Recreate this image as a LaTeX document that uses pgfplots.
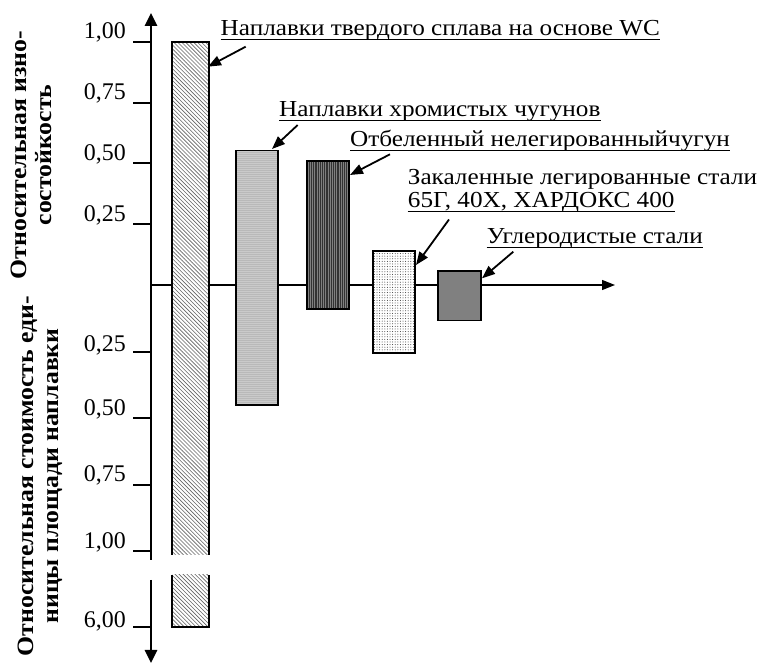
\documentclass[border=0pt]{standalone}
\usepackage{fontspec}
\setmainfont[FakeStretch=1.1]{Liberation Serif}
\newfontfamily\tickserif{Liberation Serif}
\usepackage{pgfplots}
\pgfplotsset{compat=1.18}
\usetikzlibrary{arrows.meta,patterns,patterns.meta}
\newcommand\lblfont{\fontsize{23}{26}\selectfont}
\newcommand\tickfont{\tickserif\fontsize{24}{27}\selectfont}
\newcommand\ylfont{\fontsize{23.5}{25}\selectfont\bfseries}
\tikzset{
  outl/.style={draw=black, line width=1.6bp, line join=miter},
  hatchA/.style={postaction={pattern={Lines[angle=-45,distance=2.8bp,line width=0.6bp]}, pattern color=black!60}},
  barA/.style={outl, fill=white, hatchA},
  barB/.style={outl, fill=black!20, postaction={pattern={Dots[distance=2bp,radius=0.45bp]}, pattern color=black!45}},
  barC/.style={outl, fill=black!80, postaction={pattern={Lines[angle=90,distance=2.2bp,line width=0.4bp]}, pattern color=black!50}},
  barD/.style={outl, fill=white, postaction={pattern={Dots[distance=2.6bp,radius=0.5bp]}, pattern color=black!80}},
  barE/.style={outl, fill=black!50},
  arr/.style={line width=1.8bp, -{Triangle[length=13bp,width=10bp]}},
}
\begin{document}
\begin{tikzpicture}
% pixel-frame annotations: axis lines (drawn first so bars cover them)
\begin{scope}[x=1bp, y=-1bp, yshift=664bp]
  \path (0,0) rectangle (763,664);
  \draw[line width=1.3bp, -{Triangle[length=13bp,width=10bp]}] (151,285) -- (615,285);
  \draw[line width=2.8bp, -{Triangle[length=13bp,width=12bp]}] (151,286) -- (151,13);
  \draw[line width=2.8bp] (151,284) -- (151,560);
  \draw[line width=2.8bp, -{Triangle[length=13bp,width=12bp]}] (151,580) -- (151,663);
\end{scope}

% upper half: relative wear resistance
\begin{axis}[name=up, at={(0bp,379bp)}, anchor=south west, scale only axis,
  width=763bp, height=285bp, xmin=0, xmax=763, ymin=0, ymax=1.17284,
  hide axis, clip=false, no markers]
  \addplot[barA] coordinates {(172,0) (172,1.00) (209,1.00) (209,0)};
  \addplot[barB] coordinates {(236,0) (236,0.553) (278,0.553) (278,0)};
  \addplot[barC] coordinates {(307,0) (307,0.51) (349,0.51) (349,0)};
  \addplot[barD] coordinates {(373,0) (373,0.14) (415,0.14) (415,0)};
  \addplot[barE] coordinates {(438,0) (438,0.058) (481,0.058) (481,0)};
  \draw[line width=2bp] (axis cs:133,0.25) -- (axis cs:151,0.25);
  \draw[line width=2bp] (axis cs:133,0.5) -- (axis cs:151,0.5);
  \draw[line width=2bp] (axis cs:133,0.75) -- (axis cs:151,0.75);
  \draw[line width=2bp] (axis cs:133,1) -- (axis cs:151,1);
  \node[anchor=base east, inner sep=0, yshift=3bp, font=\tickfont] at (axis cs:126,0.25) {0,25};
  \node[anchor=base east, inner sep=0, yshift=3bp, font=\tickfont] at (axis cs:126,0.5) {0,50};
  \node[anchor=base east, inner sep=0, yshift=3bp, font=\tickfont] at (axis cs:126,0.75) {0,75};
  \node[anchor=base east, inner sep=0, yshift=3bp, font=\tickfont] at (axis cs:126,1) {1,00};
\end{axis}

% lower half: relative cost per unit of surfaced area (axis broken between 1.00 and 6.00)
\begin{axis}[name=lo, at={(0bp,0bp)}, anchor=south west, scale only axis,
  width=763bp, height=379bp, xmin=0, xmax=763, ymin=0, ymax=1.42481, y dir=reverse,
  hide axis, clip=false, no markers]
  % bar 1: part above the break
  \addplot[draw=none, fill=white, hatchA] coordinates {(172,0) (172,1.015) (209,1.015) (209,0)};
  \addplot[black, line width=1.6bp] coordinates {(172,0) (172,1.015)};
  \addplot[black, line width=1.6bp] coordinates {(209,0) (209,1.015)};
  % bar 1: part below the break, ending at 6.00 (drawn at position 1.286 of the broken axis)
  \addplot[barA] coordinates {(172,1.09) (172,1.286) (209,1.286) (209,1.09)};
  \addplot[barB] coordinates {(236,0) (236,0.451) (278,0.451) (278,0)};
  \addplot[barC] coordinates {(307,0) (307,0.090) (349,0.090) (349,0)};
  \addplot[barD] coordinates {(373,0) (373,0.255) (415,0.255) (415,0)};
  \addplot[barE] coordinates {(438,0) (438,0.133) (481,0.133) (481,0)};
  \draw[line width=2bp] (axis cs:133,0.25) -- (axis cs:151,0.25);
  \draw[line width=2bp] (axis cs:133,0.5) -- (axis cs:151,0.5);
  \draw[line width=2bp] (axis cs:133,0.75) -- (axis cs:151,0.75);
  \draw[line width=2bp] (axis cs:133,1) -- (axis cs:151,1);
  \draw[line width=2bp] (axis cs:133,1.286) -- (axis cs:151,1.286);
  \node[anchor=base east, inner sep=0, yshift=0bp, font=\tickfont] at (axis cs:126,0.25) {0,25};
  \node[anchor=base east, inner sep=0, yshift=3bp, font=\tickfont] at (axis cs:126,0.5) {0,50};
  \node[anchor=base east, inner sep=0, yshift=3bp, font=\tickfont] at (axis cs:126,0.75) {0,75};
  \node[anchor=base east, inner sep=0, yshift=3bp, font=\tickfont] at (axis cs:126,1) {1,00};
  \node[anchor=base east, inner sep=0, yshift=0bp, font=\tickfont] at (axis cs:126,1.286) {6,00};
\end{axis}

% labels, underlines and arrows (pixel frame)
\begin{scope}[x=1bp, y=-1bp, yshift=664bp]
  \node[rotate=90, align=center, inner sep=0, font=\ylfont] at (31,155) {Относительная изно-\\состойкость};
  \node[rotate=90, align=center, inner sep=0, font=\ylfont] at (40,476) {Относительная стоимость еди-\\ницы площади наплавки};

  \node[anchor=base west, inner sep=0, font=\lblfont] (l1) at (220.5,36) {Наплавки твердого сплава на основе WC};
  \node[anchor=base west, inner sep=0, font=\lblfont] (l2) at (279,117) {Наплавки хромистых чугунов};
  \node[anchor=base west, inner sep=0, font=\lblfont] (l3) at (350,146.7) {Отбеленный нелегированныйчугун};
  \node[anchor=base west, inner sep=0, font=\lblfont] (l4a) at (407.7,185) {\raisebox{0pt}[\height][0pt]{Закаленные легированные стали}};
  \node[anchor=base west, inner sep=0, font=\lblfont] (l4) at (407.7,207.5) {65Г, 40Х, ХАРДОКС 400};
  \node[anchor=base west, inner sep=0, font=\lblfont] (l5) at (486.7,243.3) {Углеродистые стали};
  \foreach \n in {l1,l2,l3,l4,l5}{
    \draw[line width=1bp] ([yshift=-4bp]\n.base west) -- ([yshift=-4bp]\n.base east);
  }
  \draw[arr] (245.7,46.7) -- (208,66.7);
  \draw[arr] (297.7,125) -- (272,149);
  \draw[arr] (390,154.3) -- (350,175);
  \draw[arr] (449,219.5) -- (416,265);
  \draw[arr] (513.3,251.7) -- (482,278.3);
\end{scope}
\end{tikzpicture}
\end{document}
